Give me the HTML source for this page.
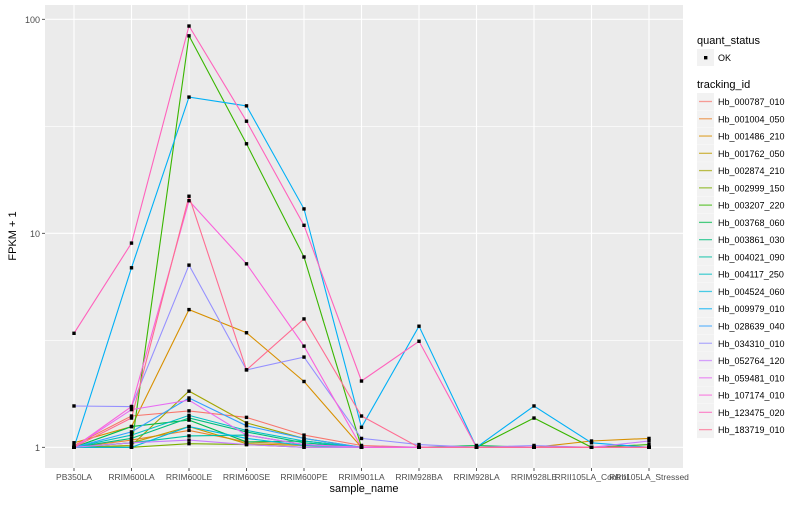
<!DOCTYPE html>
<html><head><meta charset="utf-8"><style>
body{margin:0;background:#fff;font-family:"Liberation Sans",sans-serif;}
svg text{font-family:"Liberation Sans",sans-serif;}
</style></head><body>
<svg id="chart" width="800" height="500" xmlns="http://www.w3.org/2000/svg">
<rect x="0" y="0" width="800" height="500" fill="#fff"/>
<rect x="45" y="5" width="638" height="463" fill="#EBEBEB"/>
<g id="grid"></g><g id="series"></g><g id="axes"></g><g id="legend"></g>
</svg>
<script>
const categories=["PB350LA","RRIM600LA","RRIM600LE","RRIM600SE","RRIM600PE","RRIM901LA","RRIM928BA","RRIM928LA","RRIM928LE","RRII105LA_Control","RRII105LA_Stressed"];
const trackingIds=["Hb_000787_010","Hb_001004_050","Hb_001486_210","Hb_001762_050","Hb_002874_210","Hb_002999_150","Hb_003207_220","Hb_003768_060","Hb_003861_030","Hb_004021_090","Hb_004117_250","Hb_004524_060","Hb_009979_010","Hb_028639_040","Hb_034310_010","Hb_052764_120","Hb_059481_010","Hb_107174_010","Hb_123475_020","Hb_183719_010"];
const colors=["#F8766D","#EA8331","#D89000","#C09B00","#A3A500","#7CAE00","#39B600","#00BB4E","#00BF7D","#00C1A3","#00BFC4","#00BAE0","#00B0F6","#35A2FF","#9590FF","#C77CFF","#E76BF3","#FA62DB","#FF62BC","#FF6C91"];
const s00=[1.02,1.40,1.48,1.38,1.14,1.02,1.0,1.0,1.0,1.0,1.0];
const s01=[1.0,1.08,1.20,1.06,1.03,1.0,1.0,1.0,1.0,1.0,1.0];
const s02=[1.05,1.25,4.4,3.43,2.03,1.0,1.0,1.0,1.0,1.07,1.10];
const s03=[1.0,1.05,1.25,1.04,1.02,1.0,1.0,1.0,1.0,1.0,1.0];
const s04=[1.0,1.02,1.83,1.30,1.10,1.0,1.0,1.0,1.0,1.0,1.0];
const s05=[1.0,1.0,1.04,1.03,1.0,1.0,1.0,1.0,1.0,1.0,1.0];
const s06=[1.0,1.0,83.7,26.2,7.75,1.0,1.0,1.0,1.37,1.0,1.03];
const s07=[1.0,1.25,1.34,1.06,1.07,1.0,1.0,1.02,1.0,1.0,1.0];
const s08=[1.0,1.10,1.37,1.18,1.05,1.0,1.0,1.0,1.0,1.0,1.0];
const s09=[1.0,1.05,1.13,1.14,1.03,1.0,1.0,1.0,1.0,1.0,1.0];
const s10=[1.0,1.14,1.41,1.20,1.07,1.0,1.0,1.0,1.0,1.0,1.0];
const s11=[1.0,1.0,1.25,1.10,1.02,1.0,1.0,1.0,1.0,1.0,1.0];
const s12=[1.0,6.9,43.3,39.4,13.0,1.24,3.68,1.0,1.56,1.05,1.0];
const s13=[1.0,1.18,1.70,1.26,1.10,1.0,1.0,1.0,1.0,1.0,1.0];
const s14=[1.56,1.55,7.1,2.3,2.64,1.10,1.03,1.0,1.02,1.0,1.0];
const s15=[1.0,1.05,1.08,1.03,1.0,1.0,1.0,1.0,1.0,1.0,1.07];
const s16=[1.0,1.50,1.66,1.14,1.03,1.0,1.0,1.0,1.0,1.0,1.0];
const s17=[1.0,1.55,14.2,7.2,2.97,1.0,1.0,1.0,1.0,1.0,1.0];
const s18=[3.41,9.0,93,33.4,10.9,2.04,3.13,1.0,1.0,1.0,1.0];
const s19=[1.0,1.37,14.9,2.3,3.98,1.40,1.0,1.0,1.0,1.0,1.0];
const seriesValues=[s00,s01,s02,s03,s04,s05,s06,s07,s08,s09,s10,s11,s12,s13,s14,s15,s16,s17,s18,s19];
const yTicks=[1,10,100];
const yTickLabels=["1","10","100"];
const yMinor=[Math.sqrt(10),Math.sqrt(1000)];

const NS="http://www.w3.org/2000/svg";
function xScale(i){return 74+i*57.5;}
function yScale(v){return 447.3-Math.log10(v)*214;}
function mk(tag,attrs,parent,txt){const e=document.createElementNS(NS,tag);for(const k in attrs)e.setAttribute(k,attrs[k]);if(txt!==undefined)e.textContent=txt;parent.appendChild(e);return e;}
const grid=document.getElementById('grid'),ser=document.getElementById('series'),axes=document.getElementById('axes'),leg=document.getElementById('legend');
yMinor.forEach(v=>{const l=mk('line',{x1:45,x2:683,y1:yScale(v),y2:yScale(v),stroke:'#fff','stroke-width':0.6},grid);

});
yTicks.forEach((v,i)=>{const l=mk('line',{x1:45,x2:683,y1:yScale(v),y2:yScale(v),stroke:'#fff','stroke-width':1.1},grid);


const t=mk('text',{x:40,y:yScale(v)+3.5,'text-anchor':'end','font-size':9,fill:'#4D4D4D'},axes,yTickLabels[i]);


const tk=mk('line',{x1:42,x2:45,y1:yScale(v),y2:yScale(v),stroke:'#333','stroke-width':0.8},axes);

});
categories.forEach((c,i)=>{const l=mk('line',{x1:xScale(i),x2:xScale(i),y1:5,y2:468,stroke:'#fff','stroke-width':1.1},grid);


const tk=mk('line',{x1:xScale(i),x2:xScale(i),y1:468,y2:471,stroke:'#333','stroke-width':0.8},axes);


const t=mk('text',{x:xScale(i),y:480,'text-anchor':'middle','font-size':8.5,fill:'#4D4D4D'},axes,c);

});
const xt=mk('text',{x:364,y:492,'text-anchor':'middle','font-size':11,fill:'#000'},axes,'sample_name');


const yt=mk('text',{x:16,y:236,'text-anchor':'middle','font-size':11,fill:'#000',transform:'rotate(-90 16 236)'},axes,'FPKM + 1');


seriesValues.forEach((vals,s)=>{const pts=vals.map((v,i)=>xScale(i).toFixed(1)+','+yScale(v).toFixed(1)).join(' ');
const pl=mk('polyline',{points:pts,fill:'none',stroke:colors[s],'stroke-width':1.1},ser);

});
seriesValues.forEach((vals,s)=>{vals.forEach((v,i)=>{const r=mk('rect',{x:xScale(i)-1.7,y:yScale(v)-1.7,width:3.4,height:3.4,fill:'#000'},ser);

});});
// legend
const lt1=mk('text',{x:697,y:44,'font-size':11,fill:'#000'},leg,'quant_status');


const kb=mk('rect',{x:697,y:49,width:17,height:17,fill:'#F2F2F2'},leg);


const kp=mk('rect',{x:704,y:56,width:3.4,height:3.4,fill:'#000'},leg);


const ko=mk('text',{x:718,y:61,'font-size':9,fill:'#000'},leg,'OK');


const lt2=mk('text',{x:697,y:88,'font-size':11,fill:'#000'},leg,'tracking_id');


trackingIds.forEach((id,s)=>{const y=93+s*17.27;
const g=mk('g',{},leg);


mk('rect',{x:697,y:y,width:17,height:17,fill:'#F2F2F2'},g);
mk('line',{x1:699,x2:712,y1:y+8.5,y2:y+8.5,stroke:colors[s],'stroke-width':1.3,'stroke-opacity':0.7},g);
mk('text',{x:718,y:y+12,'font-size':9,fill:'#000'},g,id);});
</script>
</body></html>
